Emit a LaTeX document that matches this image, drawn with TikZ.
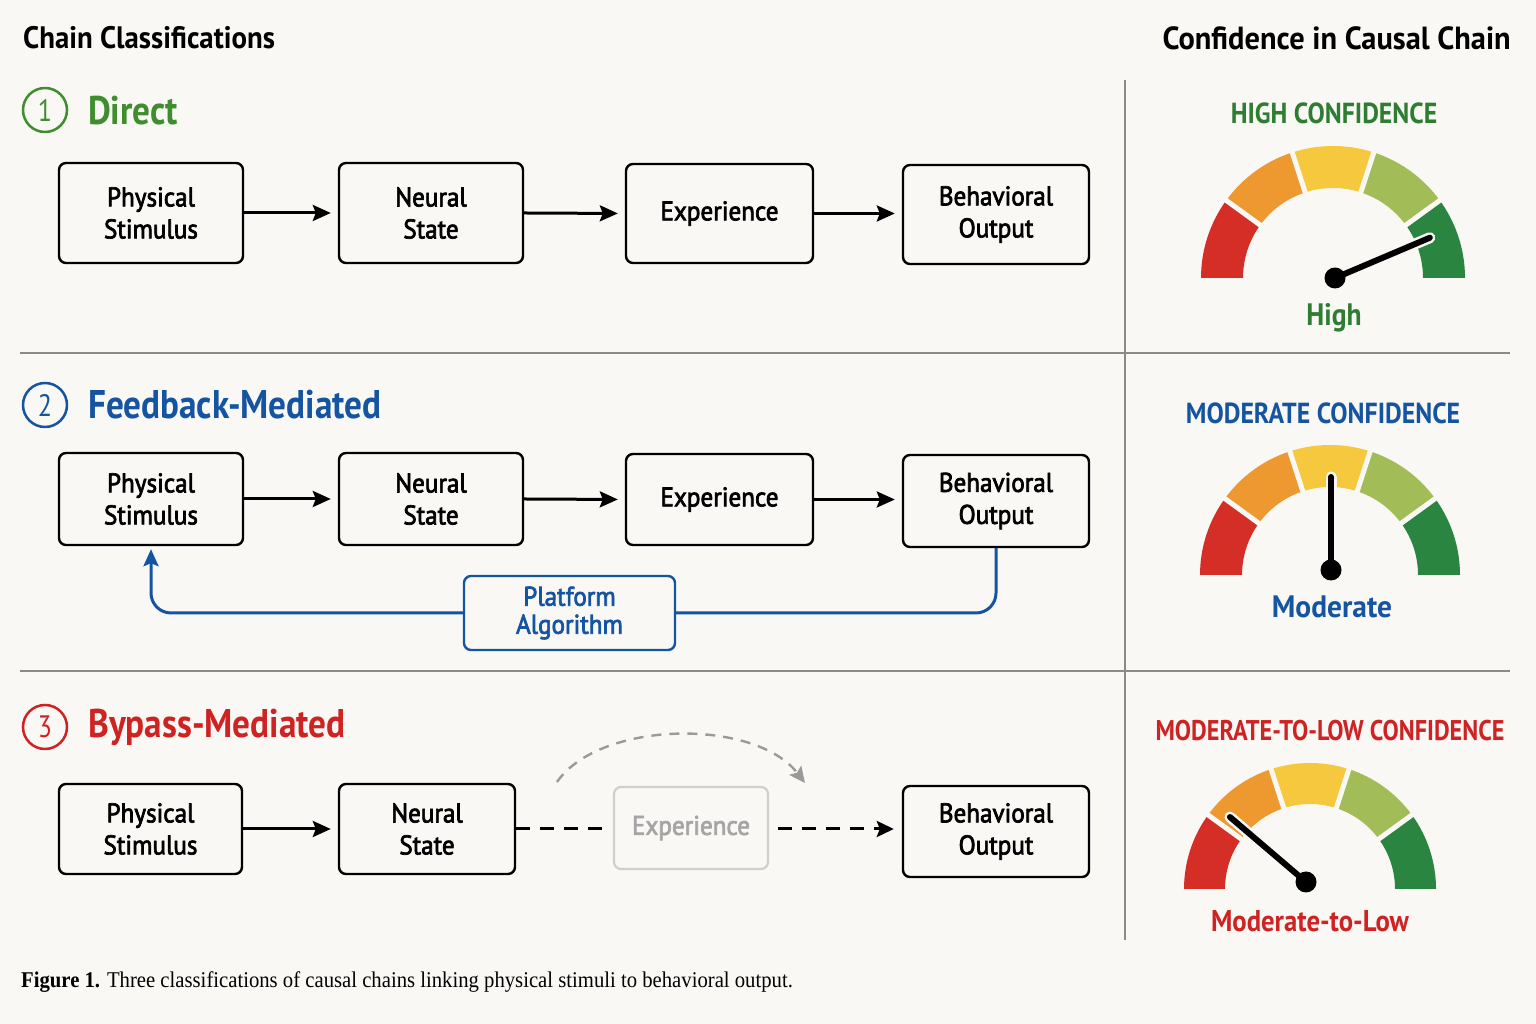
\documentclass[tikz,border=0pt]{standalone}
\usepackage{fontspec}
\setmainfont{PT Sans}[FakeStretch=0.84]
\newfontfamily\boxfont{PT Sans}[FakeStretch=0.93,FakeBold=2.6]
\newfontfamily\titlefont{PT Sans}[FakeStretch=0.88]
\newfontfamily\hdfontL{PT Sans}[FakeStretch=0.93]
\newfontfamily\hdfontR{PT Sans}[FakeStretch=0.95]
\newfontfamily\gtfont{PT Sans}[FakeStretch=0.89]
\newfontfamily\gtnarrow{PT Sans}[FakeStretch=0.85]
\newfontfamily\capfont{Liberation Serif}[FakeStretch=0.92]
\usetikzlibrary{arrows.meta,calc}
\definecolor{bg}{HTML}{FAF8F5}
\definecolor{cgreen}{HTML}{3E8E2E}
\definecolor{cgreendk}{HTML}{2E7D32}
\definecolor{cblue}{HTML}{1554A0}
\definecolor{cred}{HTML}{CF2323}
\definecolor{gred}{HTML}{D42E27}
\definecolor{gorange}{HTML}{EE9830}
\definecolor{gyellow}{HTML}{F6C83E}
\definecolor{glgreen}{HTML}{A2BC57}
\definecolor{gdgreen}{HTML}{2A8540}
\definecolor{rulegray}{HTML}{8A8A8A}
\definecolor{ghostline}{HTML}{CFCFCF}
\definecolor{ghosttext}{HTML}{A5A5A5}
\definecolor{arcgray}{HTML}{9A9A9A}
\newcommand\fsz[2]{\fontsize{#1}{#2}\selectfont}
\newcommand\gaugeseg[4]{% cx cy rin rout
  \foreach \a/\b/\c in {0/36/gdgreen,36/72/glgreen,72/108/gyellow,108/144/gorange,144/180/gred}{%
    \fill[\c] ($(#1,#2)+(\a:#4)$) arc[start angle=\a,end angle=\b,radius=#4]
      -- ($(#1,#2)+(\b:#3)$) arc[start angle=\b,end angle=\a,radius=#3] -- cycle;}
  \pgfmathsetmacro\rina{#3-4}\pgfmathsetmacro\routa{#4+4}%
  \foreach \a in {36,72,108,144}{%
    \draw[bg,line width=5pt] ($(#1,#2)+(\a:\rina)$) -- ($(#1,#2)+(\a:\routa)$);}
}
\newcommand\needle[4]{% px py angle length
  \draw[bg,line width=11pt,line cap=round] (#1,#2) -- ++(#3:#4);
  \draw[black,line width=6pt,line cap=round] (#1,#2) -- ++(#3:#4);
  \fill[black] (#1,#2) circle (10.5);
}
\begin{document}
\begin{tikzpicture}[x=1pt,y=1pt,
  box/.style={draw=black,line width=2.4pt,rounded corners=7pt,fill=bg,align=center,inner sep=0pt,font=\boxfont\fsz{27}{32}},
  ghost/.style={draw=ghostline,line width=2.2pt,rounded corners=7pt,fill=bg,align=center,inner sep=0pt,text=ghosttext,font=\boxfont\fsz{27}{32}},
  plat/.style={draw=cblue,line width=2.4pt,rounded corners=7pt,fill=bg,align=center,inner sep=0pt,text=cblue,font=\boxfont\fsz{27}{28}},
  arr/.style={line width=3pt,-{Stealth[length=18pt,width=16pt,inset=3pt]},shorten >=7pt},
  dasharr/.style={line width=3pt,dash pattern=on 14pt off 10pt},
  numcirc/.style={circle,line width=2.5pt,minimum size=44pt,inner sep=0pt,font=\fsz{31}{31}},
  sectitle/.style={anchor=west,inner sep=0pt,font=\titlefont\fsz{40}{44}\bfseries},
  gtitle/.style={inner sep=0pt,font=\gtfont\fsz{29}{32}\bfseries},
  glabel/.style={inner sep=0pt,font=\gtfont\fsz{31}{34}\bfseries},
  rule/.style={draw=rulegray,line width=1.3pt}]
\useasboundingbox (0,0) rectangle (1536,1024);
\fill[bg] (0,0) rectangle (1536,1024);

% headers
\node[inner sep=0pt,anchor=west,font=\hdfontL\bfseries\fsz{31}{34}] (hl) at (23,986) {Chain Classifications};
\node[inner sep=0pt,anchor=east,font=\hdfontR\bfseries\fsz{32}{34}] (hr) at (1511,986) {Confidence in Causal Chain};

% rules
\coordinate (v1) at (1125,944); \coordinate (v2) at (1125,84);
\draw[rule] (v1) -- (v2);
\coordinate (h1a) at (20,671); \coordinate (h1b) at (1510,671);
\coordinate (h2a) at (20,353); \coordinate (h2b) at (1510,353);
\draw[rule] (h1a) -- (h1b);
\draw[rule] (h2a) -- (h2b);

% section 1
\node[numcirc,draw=cgreen,text=cgreen] (c1) at (45,914) {1};
\node[sectitle,text=cgreen] (t1) at (88,913) {Direct};
\node[box,minimum width=184pt,minimum height=100pt] (p1) at (151,811) {Physical\\Stimulus};
\node[box,minimum width=184pt,minimum height=100pt] (n1) at (431,811) {Neural\\State};
\node[box,minimum width=187pt,minimum height=99pt] (e1) at (719.5,810.5) {Experience};
\node[box,minimum width=186pt,minimum height=99pt] (b1) at (996,809.5) {Behavioral\\Output};
\draw[arr] (p1.east) -- (n1.west);
\draw[arr] (n1.east) -- (e1.west);
\draw[arr] (e1.east) -- (b1.west |- e1.east);

% section 2
\node[numcirc,draw=cblue,text=cblue] (c2) at (45,619) {2};
\node[sectitle,text=cblue] (t2) at (88,619) {Feedback-Mediated};
\node[box,minimum width=184pt,minimum height=92pt] (p2) at (151,525) {Physical\\Stimulus};
\node[box,minimum width=184pt,minimum height=92pt] (n2) at (431,525) {Neural\\State};
\node[box,minimum width=187pt,minimum height=91pt] (e2) at (719.5,524.5) {Experience};
\node[box,minimum width=186pt,minimum height=92pt] (b2) at (996,523) {Behavioral\\Output};
\node[plat,minimum width=211pt,minimum height=74pt] (pa) at (569.5,411) {Platform\\Algorithm};
\draw[arr] (p2.east) -- (n2.west);
\draw[arr] (n2.east) -- (e2.west);
\draw[arr] (e2.east) -- (b2.west |- e2.east);
\draw[cblue,line width=3pt,rounded corners=20pt] (b2.south) |- (pa.east);
\draw[cblue,line width=3pt,rounded corners=20pt,-{Stealth[length=17pt,width=15pt,inset=3pt]},shorten >=3pt] (pa.west) -| (p2.south);

% section 3
\node[numcirc,draw=cred,text=cred] (c3) at (45,297) {3};
\node[sectitle,text=cred] (t3) at (88,297) {Bypass-Mediated};
\node[box,minimum width=183pt,minimum height=90pt] (p3) at (150.5,195) {Physical\\Stimulus};
\node[box,minimum width=176pt,minimum height=90pt] (n3) at (427,195) {Neural\\State};
\node[ghost,minimum width=154pt,minimum height=82pt] (e3) at (691,196) {Experience};
\node[box,minimum width=186pt,minimum height=91pt] (b3) at (996,192.5) {Behavioral\\Output};
\draw[arr] (p3.east) -- (n3.west);
\draw[dasharr,shorten >=9pt] (n3.east) -- (e3.west |- n3.east);
\draw[dasharr,shorten <=9pt,shorten >=8pt,-{Stealth[length=17pt,width=16pt,inset=3pt]}] (e3.east |- n3.east) -- (b3.west |- n3.east);
\coordinate (arcA) at (557,242);
\coordinate (arcB) at (805,241);
\draw[arcgray,line width=2.4pt,dash pattern=on 10pt off 8pt,-{Stealth[length=16pt,width=15pt,inset=3pt]}]
  (arcA) .. controls (600,304) and (755,306) .. (arcB);

% gauge 1
\node[gtitle,text=cgreendk] (g1t) at (1334,911) {HIGH CONFIDENCE};
\gaugeseg{1333}{746}{90}{132}
\needle{1335}{746}{23}{103}
\node[glabel,text=cgreendk] (g1l) at (1334,706) {High};

% gauge 2
\node[gtitle,text=cblue] (g2t) at (1323,611) {MODERATE CONFIDENCE};
\gaugeseg{1330}{449}{88}{130}
\needle{1331}{454}{90}{93}
\node[glabel,text=cblue,font=\hdfontR\bfseries\fsz{31}{34}] (g2l) at (1332,417) {Moderate};

% gauge 3
\node[gtitle,text=cred,font=\gtnarrow\bfseries\fsz{28.5}{32}] (g3t) at (1330,293) {MODERATE-TO-LOW CONFIDENCE};
\gaugeseg{1310}{135}{85}{126}
\needle{1306}{142}{139.5}{100}
\node[glabel,text=cred,font=\gtfont\bfseries\fsz{30}{34}] (g3l) at (1310,103) {Moderate-to-Low};

% caption
\node[anchor=west,inner sep=0pt,font=\capfont\fsz{22.5}{24}] (cap) at (21,42) {\textbf{Figure 1.} Three classifications of causal chains linking physical stimuli to behavioral output.};
\end{tikzpicture}
\end{document}
